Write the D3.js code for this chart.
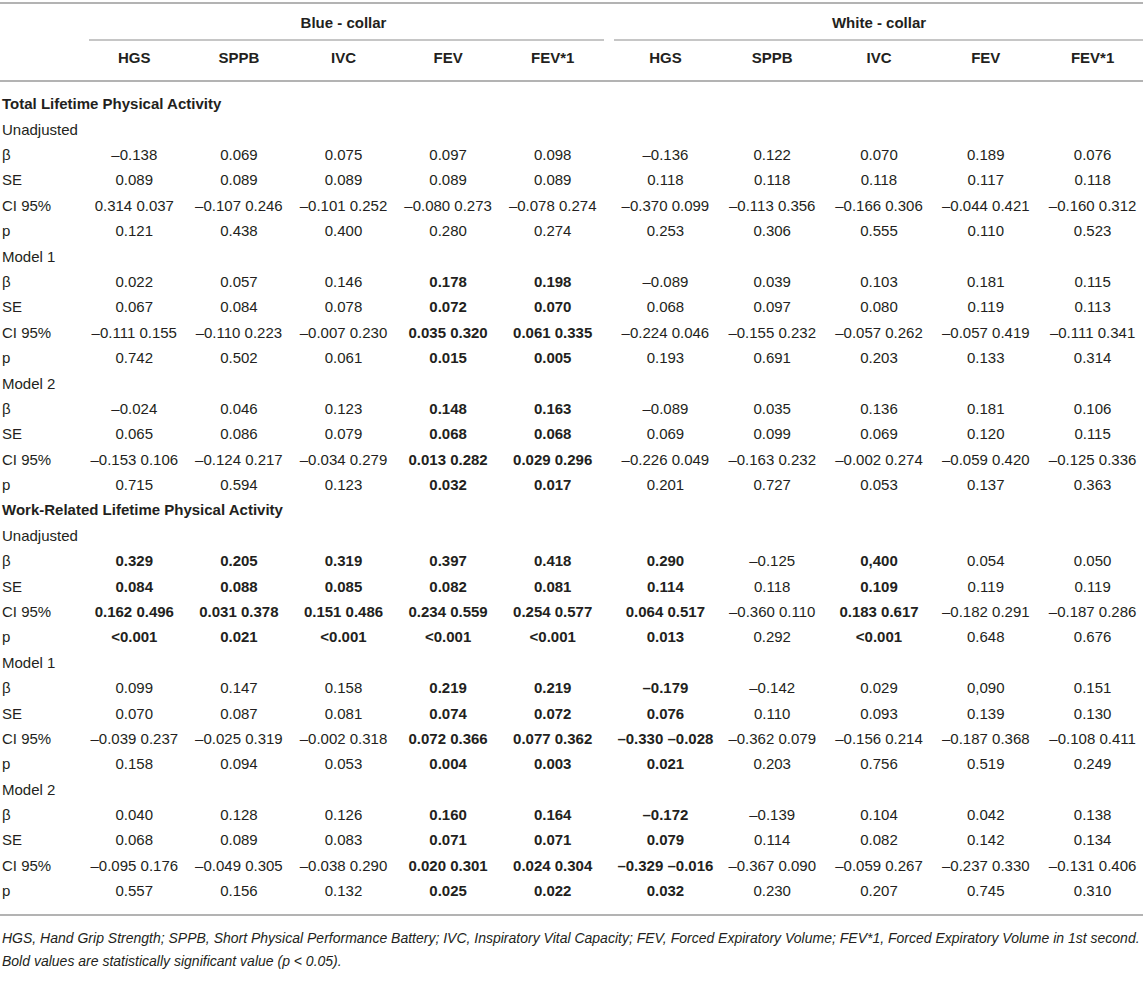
<!DOCTYPE html>
<html>
<head>
<meta charset="utf-8">
<script src="https://cdn.jsdelivr.net/npm/d3@7"></script>
<style>
  html, body { margin: 0; padding: 0; background: #fff; }
  svg { display: block; }
  text { font-family: "Liberation Sans", Arial, Helvetica, sans-serif; fill: #231f20; }
</style>
</head>
<body>
<svg id="chart" width="1143" height="991"></svg>
<script>
// ---------- DATA ----------
const groups = ["Blue - collar", "White - collar"];
const columns = ["HGS", "SPPB", "IVC", "FEV", "FEV*1"];
const sections = ["Total Lifetime Physical Activity", "Work-Related Lifetime Physical Activity"];
const models = ["Unadjusted", "Model 1", "Model 2"];
const statLabels = ["β", "SE", "CI 95%", "p"];

// Total lifetime – Unadjusted
const tot_unadj_beta = ["–0.138","0.069","0.075","0.097","0.098","–0.136","0.122","0.070","0.189","0.076"];
const tot_unadj_se   = ["0.089","0.089","0.089","0.089","0.089","0.118","0.118","0.118","0.117","0.118"];
const tot_unadj_ci   = ["0.314 0.037","–0.107 0.246","–0.101 0.252","–0.080 0.273","–0.078 0.274","–0.370 0.099","–0.113 0.356","–0.166 0.306","–0.044 0.421","–0.160 0.312"];
const tot_unadj_p    = ["0.121","0.438","0.400","0.280","0.274","0.253","0.306","0.555","0.110","0.523"];
const tot_unadj_bold = [];
// Total lifetime – Model 1
const tot_m1_beta = ["0.022","0.057","0.146","0.178","0.198","–0.089","0.039","0.103","0.181","0.115"];
const tot_m1_se   = ["0.067","0.084","0.078","0.072","0.070","0.068","0.097","0.080","0.119","0.113"];
const tot_m1_ci   = ["–0.111 0.155","–0.110 0.223","–0.007 0.230","0.035 0.320","0.061 0.335","–0.224 0.046","–0.155 0.232","–0.057 0.262","–0.057 0.419","–0.111 0.341"];
const tot_m1_p    = ["0.742","0.502","0.061","0.015","0.005","0.193","0.691","0.203","0.133","0.314"];
const tot_m1_bold = [3, 4];
// Total lifetime – Model 2
const tot_m2_beta = ["–0.024","0.046","0.123","0.148","0.163","–0.089","0.035","0.136","0.181","0.106"];
const tot_m2_se   = ["0.065","0.086","0.079","0.068","0.068","0.069","0.099","0.069","0.120","0.115"];
const tot_m2_ci   = ["–0.153 0.106","–0.124 0.217","–0.034 0.279","0.013 0.282","0.029 0.296","–0.226 0.049","–0.163 0.232","–0.002 0.274","–0.059 0.420","–0.125 0.336"];
const tot_m2_p    = ["0.715","0.594","0.123","0.032","0.017","0.201","0.727","0.053","0.137","0.363"];
const tot_m2_bold = [3, 4];
// Work-related – Unadjusted
const work_unadj_beta = ["0.329","0.205","0.319","0.397","0.418","0.290","–0.125","0,400","0.054","0.050"];
const work_unadj_se   = ["0.084","0.088","0.085","0.082","0.081","0.114","0.118","0.109","0.119","0.119"];
const work_unadj_ci   = ["0.162 0.496","0.031 0.378","0.151 0.486","0.234 0.559","0.254 0.577","0.064 0.517","–0.360 0.110","0.183 0.617","–0.182 0.291","–0.187 0.286"];
const work_unadj_p    = ["<0.001","0.021","<0.001","<0.001","<0.001","0.013","0.292","<0.001","0.648","0.676"];
const work_unadj_bold = [0, 1, 2, 3, 4, 5, 7];
// Work-related – Model 1
const work_m1_beta = ["0.099","0.147","0.158","0.219","0.219","–0.179","–0.142","0.029","0,090","0.151"];
const work_m1_se   = ["0.070","0.087","0.081","0.074","0.072","0.076","0.110","0.093","0.139","0.130"];
const work_m1_ci   = ["–0.039 0.237","–0.025 0.319","–0.002 0.318","0.072 0.366","0.077 0.362","–0.330 –0.028","–0.362 0.079","–0.156 0.214","–0.187 0.368","–0.108 0.411"];
const work_m1_p    = ["0.158","0.094","0.053","0.004","0.003","0.021","0.203","0.756","0.519","0.249"];
const work_m1_bold = [3, 4, 5];
// Work-related – Model 2
const work_m2_beta = ["0.040","0.128","0.126","0.160","0.164","–0.172","–0.139","0.104","0.042","0.138"];
const work_m2_se   = ["0.068","0.089","0.083","0.071","0.071","0.079","0.114","0.082","0.142","0.134"];
const work_m2_ci   = ["–0.095 0.176","–0.049 0.305","–0.038 0.290","0.020 0.301","0.024 0.304","–0.329 –0.016","–0.367 0.090","–0.059 0.267","–0.237 0.330","–0.131 0.406"];
const work_m2_p    = ["0.557","0.156","0.132","0.025","0.022","0.032","0.230","0.207","0.745","0.310"];
const work_m2_bold = [3, 4, 5];

const footnote1 = "HGS, Hand Grip Strength; SPPB, Short Physical Performance Battery; IVC, Inspiratory Vital Capacity; FEV, Forced Expiratory Volume; FEV*1, Forced Expiratory Volume in 1st second.";
const footnote2 = "Bold values are statistically significant value (p < 0.05).";

// ---------- BUILD ROWS ----------
const blocks = [
  [[tot_unadj_beta, tot_unadj_se, tot_unadj_ci, tot_unadj_p, tot_unadj_bold],
   [tot_m1_beta, tot_m1_se, tot_m1_ci, tot_m1_p, tot_m1_bold],
   [tot_m2_beta, tot_m2_se, tot_m2_ci, tot_m2_p, tot_m2_bold]],
  [[work_unadj_beta, work_unadj_se, work_unadj_ci, work_unadj_p, work_unadj_bold],
   [work_m1_beta, work_m1_se, work_m1_ci, work_m1_p, work_m1_bold],
   [work_m2_beta, work_m2_se, work_m2_ci, work_m2_p, work_m2_bold]]
];
const rows = [];
sections.forEach((s, si) => {
  rows.push({type: "section", label: s});
  models.forEach((m, mi) => {
    rows.push({type: "model", label: m});
    const b = blocks[si][mi];
    statLabels.forEach((lab, k) => {
      rows.push({type: "stat", label: lab, values: b[k], bold: b[4]});
    });
  });
});

// ---------- SCALES ----------
const svg = d3.select("#chart");
const W = 1143;
const colKeys = [];
groups.forEach((g, gi) => columns.forEach(c => colKeys.push(gi + "|" + c)));

// column bands for each group, and the extent of the group underline
const xGroup = {
  0: d3.scaleBand().domain(columns).range([82, 605]),
  1: d3.scaleBand().domain(columns).range([612, 1146])
};
const ruleExtent = { 0: [89, 604], 1: [614, 1143] };
const xCenter = (i) => {
  const sc = xGroup[i < 5 ? 0 : 1];
  return sc(columns[i % 5]) + sc.bandwidth() / 2;
};
const y = d3.scalePoint().domain(d3.range(rows.length)).range([104, 891]);

const FS = 15;
const lineColor = "#b3b3b3";

// ---------- RULES ----------
svg.append("line").attr("x1", 0).attr("x2", W).attr("y1", 3).attr("y2", 3)
  .attr("stroke", lineColor).attr("stroke-width", 2);
[0, 1].forEach(gi => {
  const r = ruleExtent[gi];
  svg.append("line").attr("x1", r[0]).attr("x2", r[1]).attr("y1", 40).attr("y2", 40)
    .attr("stroke", lineColor).attr("stroke-width", 1.5);
  const cx = (xCenter(gi * 5) + xCenter(gi * 5 + 4)) / 2;
  svg.append("text").attr("x", cx).attr("y", 23).attr("dy", "0.35em")
    .attr("text-anchor", "middle").attr("font-size", FS).attr("font-weight", "bold").text(groups[gi]);
});
svg.append("line").attr("x1", 0).attr("x2", W).attr("y1", 81).attr("y2", 81)
  .attr("stroke", lineColor).attr("stroke-width", 2);

// column headers
svg.append("g").selectAll("text").data(colKeys).join("text")
  .attr("x", (d, i) => xCenter(i)).attr("y", 58).attr("dy", "0.35em")
  .attr("text-anchor", "middle").attr("font-size", FS).attr("font-weight", "bold")
  .text(d => d.split("|")[1]);

// ---------- BODY ----------
const body = svg.append("g");
rows.forEach((r, ri) => {
  body.append("text").attr("x", 2).attr("y", y(ri)).attr("dy", "0.35em")
    .attr("font-size", FS).attr("font-weight", r.type === "section" ? "bold" : "normal")
    .text(r.label);
  if (r.type === "stat") {
    body.append("g").selectAll("text").data(r.values).join("text")
      .attr("x", (d, i) => xCenter(i)).attr("y", y(ri)).attr("dy", "0.35em")
      .attr("text-anchor", "middle").attr("font-size", FS)
      .attr("font-weight", (d, i) => r.bold.includes(i) ? "bold" : "normal")
      .text(d => d);
  }
});

svg.append("line").attr("x1", 0).attr("x2", W).attr("y1", 915).attr("y2", 915)
  .attr("stroke", lineColor).attr("stroke-width", 2);

// ---------- FOOTNOTES ----------
const fn = svg.append("g").attr("font-style", "italic");
const f1 = fn.append("text").attr("x", 2).attr("y", 938).attr("dy", "0.35em").attr("font-size", 13).text(footnote1);
const len = f1.node().getComputedTextLength();
const fs2 = 13 * 1138 / len;
f1.attr("font-size", fs2);
fn.append("text").attr("x", 2).attr("y", 961).attr("dy", "0.35em").attr("font-size", fs2).text(footnote2);
</script>
</body>
</html>
